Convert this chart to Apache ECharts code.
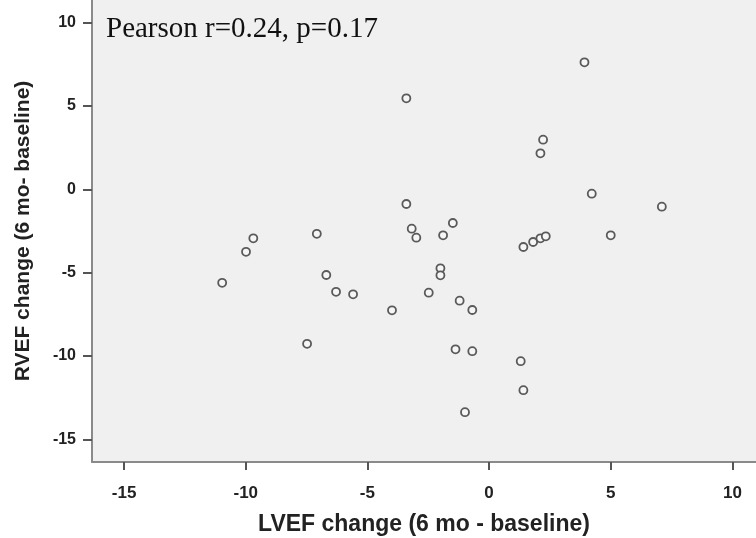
<!DOCTYPE html>
<html>
<head>
<meta charset="utf-8">
<script src="https://cdn.jsdelivr.net/npm/echarts@6/dist/echarts.min.js"></script>
<style>
  html, body { margin: 0; padding: 0; background: #fff; }
  #chart { width: 756px; height: 538px; }
</style>
</head>
<body>
<div id="chart"></div>
<script>
// LVEF change (x) vs RVEF change (y)
const lvefChange = [
  -9.69, -9.99, -10.97, -7.08, -6.69, -6.29, -5.59, -7.48,
  -3.40, -3.40, -3.18, -2.99, -1.89, -1.49,
  -2.00, -2.00, -2.48, -3.99, -1.21, -0.69, -1.38, -0.69, 1.30, 1.41, -0.99,
  3.92, 2.22, 2.11, 4.22, 7.10, 5.00, 1.41, 1.81, 2.11, 2.33
];
const rvefChange = [
  -2.94, -3.75, -5.61, -2.67, -5.14, -6.15, -6.30, -9.27,
  5.46, -0.88, -2.36, -2.90, -2.76, -2.02,
  -4.74, -5.16, -6.20, -7.26, -6.68, -7.24, -9.60, -9.71, -10.31, -12.05, -13.37,
  7.62, 2.98, 2.16, -0.26, -1.04, -2.76, -3.46, -3.16, -2.94, -2.82
];
const tickValues = [-15, -10, -5, 0, 5, 10];
const annotation = 'Pearson r=0.24, p=0.17';

const axisColor = '#8a8a8a';
const labelColor = '#222';
const sans = '"Liberation Sans", Arial, sans-serif';

const chart = echarts.init(document.getElementById('chart'), null, { renderer: 'canvas' });

chart.setOption({
  animation: false,
  title: {
    text: annotation,
    left: 101,
    top: 10,
    textStyle: {
      fontFamily: '"Liberation Serif", "Times New Roman", serif',
      fontSize: 29,
      fontWeight: 'normal',
      color: '#111'
    }
  },
  grid: {
    left: 92, right: 0, top: 0, bottom: 76,
    outerBoundsMode: 'none',
    containLabel: false,
    show: true,
    backgroundColor: '#f0f0f0',
    borderWidth: 0
  },
  xAxis: {
    type: 'value',
    min: -16.32,
    max: 10.97,
    name: 'LVEF change (6 mo - baseline)',
    nameLocation: 'middle',
    nameGap: 51,
    nameTextStyle: { fontFamily: sans, fontSize: 23, fontWeight: 'bold', color: labelColor },
    axisLine: { show: true, onZero: false, lineStyle: { color: axisColor, width: 2 } },
    axisTick: { show: true, length: 8, lineStyle: { color: '#555', width: 2 }, customValues: tickValues },
    axisLabel: {
      customValues: tickValues,
      margin: 23,
      fontFamily: sans,
      fontSize: 17,
      fontWeight: 'bold',
      color: labelColor
    },
    splitLine: { show: false }
  },
  yAxis: {
    type: 'value',
    min: -16.36,
    max: 11.36,
    name: 'RVEF change (6 mo- baseline)',
    nameLocation: 'middle',
    nameGap: 58,
    nameTextStyle: { fontFamily: sans, fontSize: 21, fontWeight: 'bold', color: labelColor },
    axisLine: { show: true, onZero: false, lineStyle: { color: axisColor, width: 2 } },
    axisTick: { show: true, length: 9, lineStyle: { color: '#555', width: 2 }, customValues: tickValues },
    axisLabel: {
      customValues: tickValues,
      margin: 16,
      fontFamily: sans,
      fontSize: 16,
      fontWeight: 'bold',
      color: labelColor
    },
    splitLine: { show: false }
  },
  series: [{
    type: 'scatter',
    data: lvefChange.map((x, i) => [x, rvefChange[i]]),
    symbol: 'circle',
    symbolSize: 8,
    itemStyle: { color: '#f6f6f6', borderColor: '#5a5a5a', borderWidth: 1.8, opacity: 1 }
  }]
});
</script>
</body>
</html>
